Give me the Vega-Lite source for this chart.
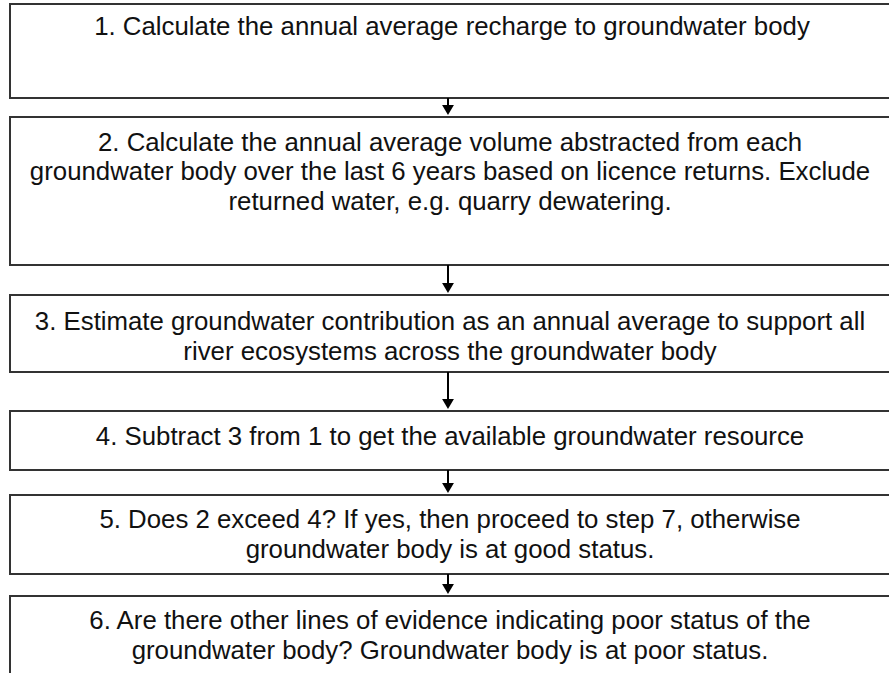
{
  "$schema": "https://vega.github.io/schema/vega-lite/v6.json",
  "width": 889,
  "height": 673,
  "autosize": {"type": "none"},
  "padding": 0,
  "background": "white",
  "config": {"view": {"stroke": null}},
  "datasets": {
    "boxes": [
      {"step": 1, "x": 10, "x2": 895, "y": 4, "y2": 98},
      {"step": 2, "x": 10, "x2": 895, "y": 117, "y2": 265},
      {"step": 3, "x": 10, "x2": 895, "y": 295, "y2": 372},
      {"step": 4, "x": 10, "x2": 895, "y": 411, "y2": 470},
      {"step": 5, "x": 10, "x2": 895, "y": 495, "y2": 574},
      {"step": 6, "x": 10, "x2": 895, "y": 596, "y2": 700}
    ],
    "arrows": [
      {"x": 448, "y": 98, "y2": 109, "head": 110},
      {"x": 448, "y": 265, "y2": 287, "head": 288},
      {"x": 448, "y": 372, "y2": 403, "head": 404},
      {"x": 448, "y": 470, "y2": 487, "head": 488},
      {"x": 448, "y": 574, "y2": 588, "head": 589}
    ],
    "lines": [
      {"x": 452, "y": 27, "text": "1. Calculate the annual average recharge to groundwater body"},
      {"x": 450, "y": 143, "text": "2. Calculate the annual average volume abstracted from each"},
      {"x": 450, "y": 172, "text": "groundwater body over the last 6 years based on licence returns. Exclude"},
      {"x": 450, "y": 202, "text": "returned water, e.g. quarry dewatering."},
      {"x": 450, "y": 322, "text": "3. Estimate groundwater contribution as an annual average to support all"},
      {"x": 450, "y": 352, "text": "river ecosystems across the groundwater body"},
      {"x": 450, "y": 437, "text": "4. Subtract 3 from 1 to get the available groundwater resource"},
      {"x": 450, "y": 520, "text": "5. Does 2 exceed 4? If yes, then proceed to step 7, otherwise"},
      {"x": 450, "y": 550, "text": "groundwater body is at good status."},
      {"x": 450, "y": 621, "text": "6. Are there other lines of evidence indicating poor status of the"},
      {"x": 450, "y": 651, "text": "groundwater body? Groundwater body is at poor status."}
    ]
  },
  "layer": [
    {
      "data": {"name": "boxes"},
      "mark": {"type": "rect", "fill": "white", "stroke": "#333333", "strokeWidth": 2, "clip": true},
      "encoding": {
        "x": {"field": "x", "type": "quantitative", "scale": {"domain": [0, 889]}, "axis": null},
        "x2": {"field": "x2"},
        "y": {"field": "y", "type": "quantitative", "scale": {"domain": [0, 673], "reverse": true}, "axis": null},
        "y2": {"field": "y2"}
      }
    },
    {
      "data": {"name": "arrows"},
      "mark": {"type": "rule", "stroke": "black", "strokeWidth": 2},
      "encoding": {
        "x": {"field": "x", "type": "quantitative", "scale": {"domain": [0, 889]}, "axis": null},
        "y": {"field": "y", "type": "quantitative", "scale": {"domain": [0, 673], "reverse": true}, "axis": null},
        "y2": {"field": "y2"}
      }
    },
    {
      "data": {"name": "arrows"},
      "mark": {"type": "point", "shape": "triangle-down", "filled": true, "fill": "black", "stroke": null, "size": 140, "opacity": 1},
      "encoding": {
        "x": {"field": "x", "type": "quantitative", "scale": {"domain": [0, 889]}, "axis": null},
        "y": {"field": "head", "type": "quantitative", "scale": {"domain": [0, 673], "reverse": true}, "axis": null}
      }
    },
    {
      "data": {"name": "lines"},
      "mark": {"type": "text", "font": "Liberation Sans", "fontSize": 25.8, "color": "#111111", "align": "center", "baseline": "middle"},
      "encoding": {
        "x": {"field": "x", "type": "quantitative", "scale": {"domain": [0, 889]}, "axis": null},
        "y": {"field": "y", "type": "quantitative", "scale": {"domain": [0, 673], "reverse": true}, "axis": null},
        "text": {"field": "text", "type": "nominal"}
      }
    }
  ]
}
